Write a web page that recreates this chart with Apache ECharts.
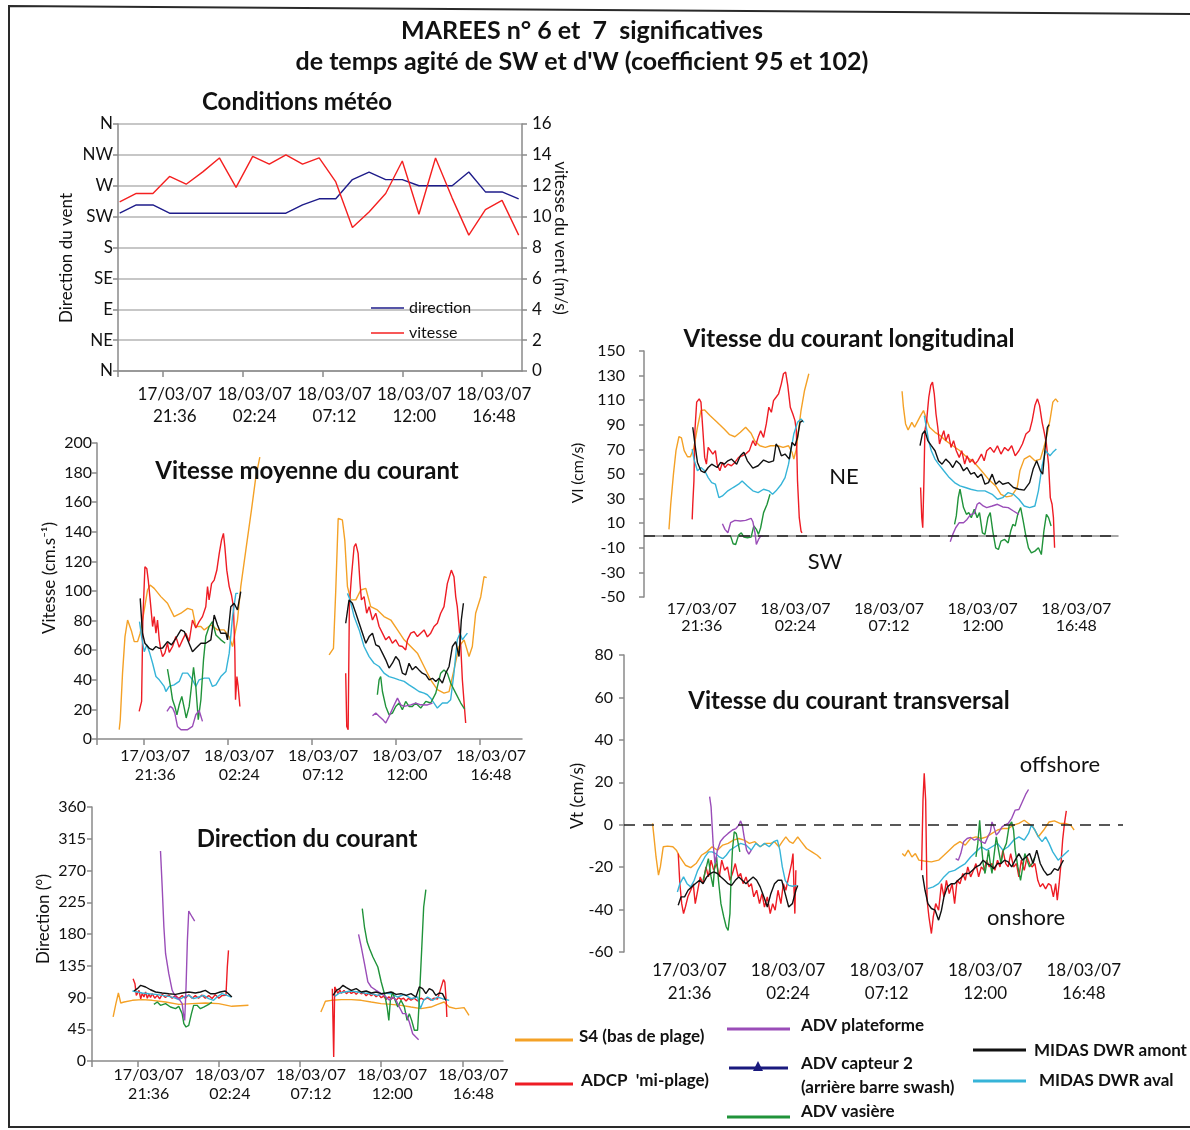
<!DOCTYPE html>
<html><head><meta charset="utf-8">
<script src="https://cdn.jsdelivr.net/npm/echarts@6/dist/echarts.min.js"></script>
<style>html,body{margin:0;padding:0;background:#fff}#c{width:1190px;height:1130px}</style>
</head><body><div id="c"></div>
<script>
// ---------- axis tick labels ----------
const tickHours = [21.6, 26.4, 31.2, 36.0, 40.8];
const tickLabels = ['17/03/07\n21:36','18/03/07\n02:24','18/03/07\n07:12','18/03/07\n12:00','18/03/07\n16:48'];
const compassLabels = ['N','NE','E','SE','S','SW','W','NW','N'];
const timeMin = 18.9, timeMax = 43.2;

// ---------- Conditions météo (hours since 17/03/07 00:00) ----------
const meteoHours = [19,20,21,22,23,24,25,26,27,28,29,30,31,32,33,34,35,36,37,38,39,40,41,42,43];
const meteoDirection = [230,242,242,230,230,230,230,230,230,230,230,242,251,251,279,290,279,279,270,270,270,290,261,261,251];
const meteoSpeed = [10.95,11.5,11.5,12.6,12.1,12.9,13.8,11.9,13.9,13.4,14.0,13.4,13.8,12.25,9.3,10.3,11.5,13.6,10.15,13.8,11.2,8.8,10.45,11.05,8.8];

// ---------- Vitesse moyenne du courant (cm/s) ----------
const vmoyS4a = [[20.17,6.3],[20.23,13],[20.36,44.5],[20.50,69.2],[20.65,80.4],[20.74,81.6],[20.88,72.6],[21.03,65.8],[21.22,65.8],[21.37,71.5],[21.60,87],[21.79,100.7],[21.94,104],[22.17,101.8],[22.55,96.2],[22.93,91.7],[23.31,82.7],[23.70,85],[24.08,88.3],[24.36,87.2],[24.55,76],[24.84,76],[25.03,73.7],[25.41,77],[25.79,73.7],[26.17,73.7],[26.46,69],[26.65,62.5],[26.93,80],[27.12,103],[27.41,127.6],[27.73,154.6],[27.98,177],[28.21,190.5]];
const vmoyS4b = [[32.17,56.9],[32.42,61.3],[32.55,100],[32.69,149],[32.93,148],[33.07,134],[33.22,103],[33.41,94],[33.70,94],[33.98,100.7],[34.27,101.8],[34.55,89.4],[34.93,87.2],[35.31,82.7],[35.70,80.4],[36.08,73.7],[36.46,67],[36.84,62.5],[37.22,58],[37.60,49],[37.98,40],[38.36,33.3],[38.74,31],[39.03,32],[39.31,46.7],[39.60,62.5],[39.89,67],[40.17,55.7],[40.36,62.5],[40.55,85],[40.84,96],[41.03,109.7],[41.18,109]];
const vmoyADCPa = [[21.31,18.7],[21.45,25.4],[21.52,80],[21.64,116.4],[21.75,115],[21.83,107.4],[21.94,94],[22.08,76],[22.17,82.7],[22.27,71.5],[22.36,80.4],[22.46,67],[22.55,60.2],[22.65,55.7],[22.78,58],[22.93,64.7],[23.03,58.5],[23.22,62.5],[23.41,69.2],[23.60,62],[23.79,67],[23.98,71.5],[24.17,66],[24.36,80.4],[24.55,75],[24.74,79.3],[24.93,82.7],[25.12,89.4],[25.22,103],[25.31,94],[25.45,105],[25.60,107.4],[25.75,114],[25.89,125.4],[26.02,134.4],[26.13,138.9],[26.21,129.9],[26.32,114.1],[26.46,103],[26.59,97.3],[26.70,89.4],[26.78,60],[26.82,26.5],[26.90,42.2],[26.97,35.5],[27.07,22]];
const vmoyADCPb = [[33.12,44.5],[33.18,8.5],[33.26,6.3],[33.33,90],[33.45,110],[33.60,129.9],[33.70,132],[33.83,125.4],[33.94,105],[34.02,94],[34.17,96.2],[34.32,85],[34.46,89.4],[34.65,80.4],[34.84,85],[35.03,76],[35.22,71.5],[35.41,67],[35.60,69.2],[35.79,64.7],[35.98,67],[36.17,63],[36.36,62.5],[36.55,60.2],[36.65,67],[36.84,71.5],[37.03,72.6],[37.22,69.2],[37.41,71.5],[37.60,73.7],[37.79,69],[37.98,71.5],[38.17,76],[38.36,78.2],[38.55,85],[38.74,89.4],[38.93,105],[39.16,114.1],[39.31,109.7],[39.41,96.2],[39.50,89.4],[39.60,76],[39.70,62.5],[39.79,40],[39.89,24.3],[39.98,10.8]];
const vmoyAmontA = [[21.37,95],[21.50,71.5],[21.64,64.7],[21.89,61.3],[22.08,60.2],[22.27,62.5],[22.46,61.3],[22.65,61.5],[22.93,65.8],[23.16,63.6],[23.41,68],[23.70,73.7],[23.89,72.6],[24.08,67],[24.36,59],[24.55,61.3],[24.84,64.7],[25.12,64.7],[25.41,67],[25.60,83.8],[25.79,77],[25.98,71.5],[26.27,71.5],[26.36,67],[26.55,89.4],[26.74,91.7],[26.93,87.2],[27.12,99.5]];
const vmoyAmontB = [[33.12,78.2],[33.31,94],[33.50,91.7],[33.70,85],[33.89,78.2],[34.08,71.5],[34.27,64.7],[34.46,69.2],[34.65,71.5],[34.84,63.6],[35.03,62.5],[35.22,58],[35.41,53.5],[35.60,47.9],[35.79,51.2],[35.98,55.7],[36.17,53],[36.36,44.5],[36.55,43.4],[36.74,51.2],[36.93,46.7],[37.12,49],[37.31,46.7],[37.50,44.5],[37.70,43.4],[37.89,40],[38.08,41],[38.27,38.9],[38.46,41],[38.65,37.8],[38.84,44.5],[39.03,49],[39.22,62.5],[39.41,65.8],[39.60,55.7],[39.73,80.4],[39.85,91.7]];
const vmoyAvalA = [[21.33,79.3],[21.45,69.2],[21.60,59],[21.75,63.6],[21.89,59],[22.08,51.2],[22.27,42.2],[22.46,40],[22.74,35.5],[22.84,32.1],[23.03,35.5],[23.31,36.6],[23.60,38.9],[23.79,44.5],[24.08,44.5],[24.36,40],[24.55,35.5],[24.74,40],[25.03,41.1],[25.31,41.1],[25.50,35.5],[25.70,36.6],[25.98,42.2],[26.27,45.6],[26.46,58],[26.65,82.7],[26.84,98.4],[26.97,98.4]];
const vmoyAvalB = [[33.22,98.4],[33.37,94],[33.60,82.7],[33.89,73.7],[34.17,62.5],[34.46,55.7],[34.74,51.2],[35.03,49],[35.31,44.5],[35.60,42.2],[35.89,41.1],[36.17,40],[36.46,38.9],[36.74,36.6],[37.03,34.4],[37.31,32.1],[37.60,31],[37.79,29.9],[37.98,27.6],[38.17,24.3],[38.36,20.9],[38.65,24.3],[38.93,24.3],[39.12,26.5],[39.31,44.5],[39.50,67],[39.66,71.5],[39.79,67],[39.92,69.2],[40.08,71.5]];
const vmoyVasA = [[22.93,47.2],[23.12,34.4],[23.22,26.5],[23.35,22],[23.47,16.4],[23.60,23.1],[23.75,28.8],[23.89,20.9],[24.00,14.2],[24.17,22],[24.30,35.5],[24.42,48.5],[24.55,35.5],[24.69,13],[24.84,26.5],[24.99,53.5],[25.12,69.2],[25.31,76],[25.50,79.3],[25.70,70.3],[25.98,67],[26.23,64.7]];
const vmoyVasB = [[34.93,29.9],[35.03,40],[35.12,42.2],[35.22,32.1],[35.41,22],[35.60,16.4],[35.79,17.5],[35.98,22],[36.17,24.3],[36.36,19.8],[36.55,25.4],[36.74,22],[36.93,22],[37.12,24.3],[37.41,20.9],[37.70,25.4],[37.98,24.3],[38.27,31],[38.55,44.5],[38.74,46.7],[38.93,44.5],[39.12,37.8],[39.41,31],[39.70,24.3],[39.92,20.2]];
const vmoyPlatA = [[22.90,18.7],[23.09,22],[23.22,20.9],[23.35,17.5],[23.50,8.5],[23.70,6.3],[24.08,6.3],[24.36,8.5],[24.55,16.4],[24.74,19.3],[24.93,11.9]];
const vmoyPlatB = [[34.65,15.7],[34.84,17.5],[35.03,15.3],[35.28,12.6],[35.41,10.8],[35.60,15.3],[35.85,22],[36.08,27.6],[36.27,23.1],[36.46,22],[36.84,23.1],[37.12,24.3],[37.41,23.1],[37.79,23],[38.08,24.3]];

// ---------- Direction du courant (°) ----------
const dirS4a = [[20.15,62.4],[20.31,81],[20.46,96.4],[20.60,82.2],[20.80,83.6],[21.29,86],[21.87,87],[22.46,86],[23.25,83.6],[24.03,80.3],[24.82,81.3],[25.60,82.2],[26.39,81.3],[27.17,77.5],[28.15,79]];
const dirS4b = [[32.43,69.4],[32.56,76.5],[32.70,84.6],[33.05,86],[33.64,87],[34.23,87],[34.82,86],[35.41,83.6],[35.99,81.3],[36.58,80.3],[37.17,78.9],[37.76,76.5],[38.35,74.2],[38.94,76.5],[39.33,80.3],[39.72,83.6],[40.02,76.5],[40.41,74.2],[40.90,75.6],[41.19,64.7]];
const dirADCPa = [[21.33,116.7],[21.44,109.6],[21.52,93],[21.68,100],[21.78,88],[21.87,96],[21.97,90.7],[22.07,97.8],[22.17,89],[22.27,95],[22.36,90],[22.46,95.4],[22.61,89],[22.76,93],[22.9,88],[23.05,94.5],[23.24,90],[23.44,93.6],[23.64,89],[23.84,93],[24.03,88.5],[24.23,92.7],[24.42,89],[24.62,94],[24.82,89],[25.01,92.7],[25.2,89],[25.40,93.6],[25.6,89],[25.80,92.7],[26.0,88.5],[26.19,94],[26.4,89],[26.58,92.7],[26.82,93],[26.90,133],[26.97,156.8]];
const dirADCPb = [[33.11,102.5],[33.19,5.7],[33.25,105],[33.35,107.2],[33.45,95.4],[33.55,101],[33.64,96],[33.8,100],[33.94,95.4],[34.1,99],[34.23,95.8],[34.4,98],[34.52,94.4],[34.67,98.5],[34.82,95.2],[34.97,97],[35.11,92.5],[35.26,96],[35.41,92.4],[35.55,95],[35.70,91],[35.85,94],[36.00,89.7],[36.15,92],[36.29,87.3],[36.45,91],[36.58,87.8],[36.73,90],[36.88,85.9],[37.03,90],[37.17,87.3],[37.32,89],[37.47,85],[37.62,89],[37.76,86.3],[37.95,89],[38.15,85],[38.35,89],[38.54,86.8],[38.74,89.5],[38.94,86.3],[39.13,89],[39.33,87.7],[39.68,115.3],[39.76,112],[39.84,86],[39.88,62.4]];
const dirAmontA = [[21.38,99.2],[21.58,102.5],[21.78,107.2],[22.07,104.9],[22.36,101],[22.66,97.8],[23.05,96.4],[23.44,95.4],[23.84,94.5],[24.23,96.4],[24.62,97.8],[25.01,96.4],[25.31,97.8],[25.60,100],[25.90,95.4],[26.19,95.4],[26.48,97.8],[26.78,99.2],[26.97,95.4],[27.17,90.7]];
const dirAmontB = [[33.15,93],[33.35,100],[33.54,102.5],[33.74,107.2],[33.94,104],[34.23,100],[34.52,102.5],[34.82,97.8],[35.11,99.2],[35.41,96.4],[35.70,97.8],[36.00,95.4],[36.29,96.4],[36.58,97.8],[36.88,94.5],[37.17,95.4],[37.47,93],[37.76,95.4],[38.05,90.7],[38.25,104.9],[38.45,102.5],[38.64,95.4],[38.84,102.5],[39.04,100],[39.23,93],[39.43,96.4],[39.62,95.4],[39.82,86]];
const dirAvalA = [[21.29,99.2],[21.58,97.8],[21.87,96.4],[22.27,95.4],[22.66,94.5],[23.05,93],[23.44,91.6],[23.74,89.8],[24.03,86.9],[24.33,90.7],[24.62,93],[24.91,88.3],[25.21,90.7],[25.50,93],[25.80,88.3],[26.09,86],[26.29,90.7],[26.58,95.4],[26.88,93],[27.13,90.7]];
const dirAvalB = [[33.25,91.6],[33.54,96.4],[33.84,97.8],[34.23,99.2],[34.62,97.8],[35.01,96.4],[35.41,95.4],[35.80,93],[36.19,96.4],[36.58,95.4],[36.98,90.7],[37.37,94.5],[37.76,88.3],[38.15,90.7],[38.31,74.2],[38.51,86],[38.74,90.7],[39.04,86],[39.33,90.7],[39.62,88.3],[40.02,86]];
const dirVasA = [[22.56,80.3],[22.76,83.6],[22.95,78.9],[23.25,81.3],[23.54,76.5],[23.84,74.2],[24.03,77.5],[24.23,67.1],[24.33,52.9],[24.46,48.2],[24.62,50.5],[24.78,67.1],[24.91,78.9],[25.11,78.9],[25.31,74.2],[25.50,76.5],[25.80,80.3],[25.99,83.6]];
const dirVasB = [[34.88,215.9],[35.01,189.9],[35.17,168.6],[35.31,159.2],[35.51,147.4],[35.80,133.2],[36.00,112],[36.19,95.4],[36.35,76.5],[36.45,57.6],[36.54,86],[36.68,97.8],[36.82,86],[36.98,76.5],[37.17,86],[37.37,76.5],[37.53,57.6],[37.66,67.1],[37.80,57.6],[37.96,43.5],[38.15,43.5],[38.25,86],[38.39,156.8],[38.51,218.3],[38.64,242.8]];
const dirPlatA = [[22.95,297.6],[23.05,246.6],[23.15,189.9],[23.25,152.1],[23.44,123.8],[23.64,100.2],[23.84,90.7],[24.03,88.3],[24.23,81.3],[24.33,62.4],[24.38,57.6],[24.46,104.9],[24.54,171],[24.62,212.6],[24.72,212.6],[24.82,204.1],[24.97,198.4]];
const dirPlatB = [[34.66,179.5],[34.82,161.6],[35.01,137.9],[35.21,112],[35.41,104.9],[35.70,100.2],[36.00,95.4],[36.29,90.7],[36.49,86],[36.68,90.7],[36.88,86],[37.07,76.5],[37.27,67.1],[37.47,67.1],[37.66,55.3],[37.86,38.7],[38.05,34],[38.21,30.2]];

// ---------- Vitesse du courant longitudinal (cm/s) ----------
const lonS4a = [[20.18,5],[20.27,25.4],[20.41,49.9],[20.54,69],[20.69,80.3],[20.82,79.3],[20.96,69],[21.13,64],[21.28,64],[21.46,71.6],[21.64,88],[21.82,101.6],[22.01,102.1],[22.28,97.5],[22.65,92],[23.01,86.6],[23.29,82],[23.56,80.3],[23.84,83.9],[24.11,88],[24.39,83.1],[24.57,77.1],[24.84,73],[25.12,71.6],[25.39,73],[25.76,73],[26.03,71.6],[26.31,73],[26.49,67.6],[26.58,62.1],[26.71,70.3],[26.82,85.2],[26.95,101.6],[27.13,117.9],[27.35,131.5]];
const lonS4b = [[32.13,117.3],[32.20,104.3],[32.31,90.7],[32.44,85.8],[32.63,92],[32.77,88],[32.90,92],[33.08,97.5],[33.23,101.6],[33.36,95.6],[33.54,88],[33.82,83.9],[34.09,81.2],[34.37,77.1],[34.73,73],[35.10,68.9],[35.46,63.5],[35.83,59.4],[36.20,52.6],[36.56,45.8],[36.93,40.3],[37.20,33.5],[37.48,31.4],[37.75,32.2],[38.03,39],[38.17,52.6],[38.39,62.1],[38.67,64.8],[38.94,60.7],[39.22,62.1],[39.40,71.6],[39.53,79.8],[39.71,93.4],[39.86,108.4],[40.00,111.1],[40.13,108.4]];
const lonADCPa = [[21.37,13.1],[21.40,25.4],[21.46,44.4],[21.51,85.2],[21.60,108.4],[21.73,111.1],[21.82,108.4],[21.92,85.2],[22.01,63.5],[22.10,58],[22.19,71.6],[22.28,73],[22.43,66.2],[22.56,69],[22.65,58],[22.79,52.6],[22.92,59.4],[23.05,55.3],[23.20,58],[23.38,56.7],[23.56,59.4],[23.75,63.5],[23.93,64.8],[24.11,66.2],[24.30,69],[24.48,77.1],[24.62,73],[24.75,79.8],[24.88,85.2],[25.03,79.8],[25.17,90.7],[25.30,104.3],[25.43,100.2],[25.54,109.7],[25.67,112.4],[25.80,115.2],[25.94,123.3],[26.05,131.5],[26.16,132.9],[26.27,122],[26.40,104.3],[26.53,98.8],[26.64,93.4],[26.71,85.2],[26.77,44.4],[26.86,14.5],[26.95,3.6],[27.00,2.2]];
const lonADCPb = [[33.08,39],[33.14,14.5],[33.19,6.3],[33.25,44.4],[33.30,85.2],[33.39,93.4],[33.50,112.4],[33.60,122],[33.69,124.7],[33.78,115.2],[33.87,98.8],[33.96,88],[34.05,74.4],[34.15,79.8],[34.27,85.2],[34.37,77.1],[34.51,82.5],[34.64,71.6],[34.77,77.1],[34.91,68.9],[35.06,63.5],[35.19,68.9],[35.34,58],[35.46,64.8],[35.61,59.4],[35.74,62.1],[35.87,58],[36.01,60.7],[36.20,66.2],[36.34,60.7],[36.47,68.9],[36.65,71.6],[36.84,67.6],[37.02,73],[37.20,66.2],[37.39,71.6],[37.57,68.9],[37.75,73],[37.93,64.8],[38.12,68.9],[38.30,74.4],[38.48,82.5],[38.67,85.2],[38.80,93.4],[38.94,105.6],[39.07,111.1],[39.18,105.6],[39.31,92],[39.40,85.2],[39.53,74.4],[39.64,58],[39.73,30.8],[39.82,25.4],[39.89,14.5],[39.95,-10]];
const lonAmontA = [[21.40,88],[21.51,74.4],[21.64,59.4],[21.82,52.6],[22.01,51.2],[22.19,55.3],[22.37,58],[22.65,55.3],[22.83,59.4],[23.01,58],[23.20,60.7],[23.38,62.1],[23.65,58],[23.84,64.8],[24.02,67.6],[24.20,60.7],[24.48,54.8],[24.75,56.7],[25.03,61.3],[25.30,59.4],[25.54,60.7],[25.67,74.4],[25.80,71.6],[25.94,64.8],[26.13,66.2],[26.35,62.1],[26.49,75.7],[26.64,73],[26.77,79.8],[26.90,92],[27.04,93.4]];
const lonAmontB = [[33.05,73],[33.17,82.5],[33.30,85.2],[33.45,77.1],[33.63,73],[33.82,68.9],[34.00,60.7],[34.18,58],[34.37,62.1],[34.55,59.4],[34.73,55.3],[34.91,60.7],[35.10,58],[35.28,52.6],[35.46,55.3],[35.65,49.9],[35.83,51.2],[36.01,47.1],[36.20,49.9],[36.38,41.7],[36.56,43],[36.75,49.9],[36.93,41.7],[37.11,44.4],[37.29,41.7],[37.57,43],[37.84,39],[38.12,37.6],[38.39,36.9],[38.67,43],[38.85,54],[39.03,60.7],[39.22,52.6],[39.34,49.9],[39.45,68.9],[39.58,88],[39.67,90.2]];
const lonAvalA = [[21.37,70.3],[21.46,62.1],[21.64,52.6],[21.82,55.3],[22.01,52.6],[22.19,47.1],[22.37,43],[22.56,41.7],[22.74,30.8],[22.92,32.2],[23.20,36.3],[23.47,39],[23.75,41.7],[23.93,44.4],[24.20,40.3],[24.48,36.3],[24.75,34.9],[25.03,37.6],[25.30,36.3],[25.49,33.5],[25.67,36.3],[25.94,41.7],[26.13,47.1],[26.31,58],[26.46,71.6],[26.58,82.5],[26.77,92],[26.95,94.8],[27.10,92]];
const lonAvalB = [[33.27,97.5],[33.36,89.3],[33.49,77.1],[33.63,68.9],[33.82,62.1],[34.00,58],[34.27,52.6],[34.55,47.1],[34.82,43],[35.10,40.3],[35.37,39],[35.65,37.6],[36.01,36.3],[36.38,36.3],[36.75,33.5],[37.02,29.5],[37.29,30.8],[37.57,34.9],[37.84,33.5],[38.12,29.5],[38.39,24],[38.67,22.7],[38.94,24],[39.12,36.3],[39.31,56.7],[39.49,68.9],[39.71,64.8],[39.86,67.6],[40.04,70.3]];
const lonVasA = [[23.34,-0.5],[23.47,-6.7],[23.60,-7.3],[23.75,0.3],[23.89,2.2],[24.02,-1.3],[24.20,-1.8],[24.39,-1.3],[24.53,7.7],[24.66,5],[24.77,0.9],[24.88,6.3],[25.03,18.6],[25.21,25.4],[25.36,33.5]];
const lonVasB = [[34.82,9],[34.91,15.9],[35.01,30.8],[35.10,37.6],[35.19,36.3],[35.28,22.7],[35.43,17.2],[35.55,18.6],[35.68,14.5],[35.83,21.3],[35.98,14.5],[36.10,18.6],[36.25,2.2],[36.38,0.9],[36.53,14.5],[36.65,18.6],[36.78,3.6],[36.93,-10],[37.07,-11.4],[37.20,-4.6],[37.39,-3.2],[37.57,-6],[37.70,3.6],[37.81,9],[37.93,7.7],[38.06,17.2],[38.21,22.7],[38.34,11.8],[38.48,-0.5],[38.61,-10],[38.76,-14.1],[38.94,-12.7],[39.12,-10],[39.27,-15.5],[39.40,3.6],[39.53,17.2],[39.64,14.5],[39.77,7.7]];
const lonPlatA = [[22.92,9.6],[23.05,5],[23.20,2.2],[23.34,10.4],[23.56,12.3],[23.84,11.8],[24.11,12.3],[24.39,14],[24.48,11.2],[24.59,2.2],[24.66,-7.3],[24.77,-3.2],[24.88,-0.5],[24.99,-0.5]];
const lonPlatB = [[34.60,-5.1],[34.73,0.9],[34.88,6.3],[35.06,10.4],[35.28,10.4],[35.46,13.1],[35.65,17.2],[35.83,17.8],[35.98,25.4],[36.10,26.7],[36.29,24],[36.47,22.7],[36.75,24],[37.02,25.4],[37.29,23.2],[37.57,22.7],[37.84,19.9],[38.12,17.2]];

// ---------- Vitesse du courant transversal (cm/s) ----------
const traS4a = [[20.29,0.6],[20.36,-5.7],[20.46,-15.2],[20.58,-23.8],[20.67,-19.9],[20.81,-10.4],[21.02,-10.1],[21.28,-10.4],[21.45,-12],[21.62,-15.2],[21.89,-19.1],[22.15,-20.2],[22.41,-18.3],[22.67,-14.4],[22.93,-12.8],[23.19,-10.4],[23.45,-12],[23.71,-9.6],[23.97,-8.8],[24.23,-7.3],[24.49,-6.5],[24.75,-7.3],[25.01,-8.8],[25.27,-8],[25.53,-10.4],[25.79,-8.8],[26.05,-8.8],[26.23,-8],[26.44,-10.4],[26.61,-8],[26.78,-5.7],[26.96,-8],[27.13,-8.8],[27.36,-5.7],[27.53,-8],[27.79,-11.2],[28.05,-12.8],[28.31,-14.4],[28.49,-16]];
const traS4b = [[32.45,-13.6],[32.57,-14.8],[32.74,-12],[32.92,-15.2],[33.09,-13.6],[33.26,-16.7],[33.52,-17.1],[33.87,-17.5],[34.22,-16.7],[34.48,-14.4],[34.74,-12],[35.00,-9.6],[35.26,-8],[35.52,-9.6],[35.78,-6.5],[36.04,-5.7],[36.30,-6.5],[36.56,-5.7],[36.82,-4.1],[37.09,-2.5],[37.35,-1.8],[37.61,-1.8],[37.87,-0.2],[38.13,0.6],[38.39,2.1],[38.60,0.6],[38.82,-1],[39.08,-5.7],[39.34,-2.5],[39.60,1.3],[39.86,1.8],[40.13,0.6],[40.39,0.6],[40.65,-0.2],[40.82,-2.5]];
const traADCPa = [[21.54,-13.6],[21.62,-27.8],[21.71,-37.2],[21.80,-41.9],[21.89,-38.8],[22.01,-34],[22.15,-30.9],[22.27,-27.8],[22.37,-37.2],[22.49,-30.9],[22.61,-24.6],[22.75,-27.8],[22.89,-19.9],[23.01,-24.6],[23.14,-16.7],[23.27,-21.5],[23.41,-18.3],[23.54,-24.6],[23.66,-16.7],[23.80,-21.5],[23.94,-19.9],[24.06,-26.2],[24.18,-23],[24.32,-18.3],[24.46,-24.6],[24.58,-23],[24.70,-27.8],[24.84,-24.6],[24.98,-29.3],[25.10,-27.8],[25.22,-34],[25.36,-30.9],[25.50,-37.2],[25.62,-32.5],[25.74,-38.8],[25.88,-34],[26.02,-41.9],[26.14,-37.2],[26.26,-40.3],[26.40,-30.9],[26.54,-37.2],[26.66,-27.8],[26.78,-30.9],[26.92,-24.6],[27.06,-18.3],[27.13,-13.6],[27.18,-30.9],[27.22,-41.9],[27.27,-21.5]];
const traADCPb = [[33.39,-21.5],[33.46,11.6],[33.52,24.2],[33.59,11.6],[33.66,-35.6],[33.75,-43.5],[33.87,-51.3],[33.96,-43.5],[34.08,-37.2],[34.22,-40.3],[34.36,-27.8],[34.48,-34],[34.60,-26.2],[34.74,-32.5],[34.88,-27.8],[35.00,-37.2],[35.12,-26.2],[35.26,-27.8],[35.40,-23],[35.52,-26.2],[35.64,-19.9],[35.78,-24.6],[35.92,-21.5],[36.04,-18.3],[36.17,-24.6],[36.30,-19.9],[36.44,-21.5],[36.56,-16.7],[36.69,-19.9],[36.82,-18.3],[36.96,-21.5],[37.09,-16.7],[37.21,-19.9],[37.35,-12],[37.49,-18.3],[37.61,-19.9],[37.73,-13.6],[37.87,-19.9],[38.01,-18.3],[38.13,-24.6],[38.25,-16.7],[38.39,-21.5],[38.53,-15.2],[38.65,-18.3],[38.77,-19.9],[38.91,-18.3],[39.05,-26.2],[39.17,-29.3],[39.29,-27.8],[39.43,-30.2],[39.57,-27.8],[39.69,-28.6],[39.81,-34],[39.92,-27.8],[40.00,-35.6],[40.09,-27.8],[40.18,-18.3],[40.26,-7.3],[40.35,0.6],[40.44,6.5]];
const traAmontA = [[21.54,-38],[21.68,-34],[21.85,-34],[22.02,-30.9],[22.20,-29.3],[22.37,-27.8],[22.58,-26.2],[22.75,-27.8],[22.93,-24.6],[23.10,-23],[23.27,-22.2],[23.45,-23],[23.62,-24.6],[23.80,-26.2],[23.97,-27.8],[24.14,-28.6],[24.32,-26.2],[24.49,-24.6],[24.66,-26.2],[24.84,-27.8],[25.01,-26.2],[25.19,-24.6],[25.36,-26.2],[25.53,-29.3],[25.71,-34],[25.88,-38.8],[26.05,-32.5],[26.23,-27.8],[26.40,-26.2],[26.58,-26.2],[26.75,-32.5],[26.92,-38.8],[27.10,-37.2],[27.27,-30.9],[27.36,-28.6]];
const traAmontB = [[33.44,-23.8],[33.56,-30.9],[33.70,-37.2],[33.87,-39.5],[34.05,-40.3],[34.22,-45],[34.36,-40.3],[34.48,-34],[34.65,-29.3],[34.83,-27.8],[35.00,-27.8],[35.17,-26.2],[35.35,-24.6],[35.52,-23],[35.70,-23],[35.87,-21.5],[36.04,-19.9],[36.22,-19.1],[36.39,-16.7],[36.56,-18.3],[36.74,-19.1],[36.91,-20.7],[37.09,-18.3],[37.26,-18.3],[37.43,-16.7],[37.61,-17.5],[37.78,-19.9],[37.95,-16.7],[38.13,-13.6],[38.30,-16.7],[38.48,-15.2],[38.65,-13.6],[38.82,-18.3],[39.00,-12],[39.17,-18.3],[39.34,-21.5],[39.52,-23.8],[39.69,-23],[39.86,-20.7],[40.04,-21.5],[40.21,-18.3],[40.30,-16.7]];
const traAvalA = [[21.50,-31.7],[21.62,-27.8],[21.80,-24.6],[21.97,-27.8],[22.15,-29.3],[22.32,-26.2],[22.49,-21.5],[22.67,-18.3],[22.84,-15.2],[23.02,-12.8],[23.19,-12.8],[23.36,-13.6],[23.54,-15.2],[23.71,-16],[23.88,-14.4],[24.06,-12],[24.32,-10.4],[24.58,-8.8],[24.84,-9.6],[25.10,-12],[25.32,-8.8],[25.53,-10.4],[25.74,-8.8],[25.97,-10.4],[26.19,-8],[26.37,-7.3],[26.49,-12],[26.61,-19.9],[26.75,-26.2],[26.92,-28.6],[27.10,-29],[27.31,-28.6]];
const traAvalB = [[33.70,-30.1],[33.96,-29.3],[34.22,-27.8],[34.48,-24.6],[34.74,-22.2],[35.00,-21.5],[35.26,-19.9],[35.52,-18.3],[35.78,-15.2],[36.04,-12.8],[36.30,-10.4],[36.56,-12],[36.82,-10.4],[37.09,-8.8],[37.35,-12],[37.61,-10.4],[37.87,-7.3],[38.13,-5.7],[38.39,-7.3],[38.60,-4.1],[38.74,-0.2],[38.91,-2.5],[39.08,-5.7],[39.26,-8],[39.43,-5.7],[39.60,-8.8],[39.78,-12.8],[40.04,-16.7],[40.30,-14.4],[40.56,-12]];
const traVasA = [[22.75,-26.2],[22.89,-20.7],[23.01,-16],[23.14,-24.6],[23.24,-29.3],[23.31,-19.9],[23.41,-15.2],[23.50,-26.2],[23.62,-37.2],[23.76,-43.5],[23.88,-48.2],[23.97,-49.8],[24.06,-41.9],[24.11,-26.2],[24.18,-12],[24.27,-3.3],[24.37,-4.2],[24.46,-8.8],[24.54,-12.8]];
const traVasB = [[36.04,-15.2],[36.13,-8.8],[36.22,2.1],[36.30,-8.8],[36.39,-18.3],[36.48,-23],[36.56,-18.3],[36.65,-12],[36.74,-18.3],[36.82,-23],[36.91,-15.2],[37.03,-5.7],[37.14,-12],[37.26,-18.3],[37.38,-12],[37.52,-8.8],[37.66,-0.2],[37.78,1.3],[37.87,-2.5],[37.95,-12],[38.08,-19.9],[38.21,-26.2],[38.32,-19.9],[38.42,-13.6],[38.53,-16.7],[38.65,-19.9],[38.77,-18.3],[38.91,-15.2]];
const traPlatA = [[23.07,13.2],[23.14,8.4],[23.24,-8.8],[23.33,-18.3],[23.45,-12],[23.59,-8],[23.76,-5.9],[23.97,-4.1],[24.18,-2.5],[24.35,-1.8],[24.49,-0.2],[24.58,1.8],[24.66,-0.2],[24.75,-5.7],[24.87,-12],[24.98,-13.9],[25.10,-12]];
const traPlatB = [[35.05,-16],[35.18,-16.7],[35.30,-13.6],[35.44,-8],[35.61,-6.5],[35.78,-6],[35.96,-7.3],[36.13,-6.5],[36.30,-8],[36.48,-8.8],[36.62,-5.7],[36.74,-3.3],[36.82,1.3],[36.91,-1],[37.03,-4.9],[37.17,-3.3],[37.31,-1],[37.43,-0.2],[37.61,0.6],[37.78,3],[37.95,6.9],[38.13,7.2],[38.30,10.8],[38.48,14.7],[38.60,16.6]];

// ---------- styling ----------
const FONT = 'Lato, "Open Sans", "DejaVu Sans", sans-serif';
const COL = {S4:'#F4A126', ADCP:'#EE1C24', PLAT:'#9A4DB8', VAS:'#20933A', AMONT:'#111111', AVAL:'#36B4D8', DIR:'#1E1C8A', VIT:'#F42020'};
const NAMES = {S4:'S4 (bas de plage)', ADCP:"ADCP  'mi-plage)", PLAT:'ADV plateforme', VAS:'ADV vasière', AMONT:'MIDAS DWR amont', AVAL:'MIDAS DWR aval'};
const AX = '#8a8a8a';

// labels are drawn slightly right of their tick (as in the original): off = hours of shift
function xAx(gi, o){
  const off = o.off;
  const labelVals = tickHours.map(h=>h+off);
  const fmt = (v)=>{ for(let i=0;i<tickHours.length;i++){ if(Math.abs(tickHours[i]+off-v)<0.01) return tickLabels[i]; } return ''; };
  return {type:'value', gridIndex:gi, min:timeMin, max:timeMax,
    axisLine:{show:o.line, lineStyle:{color:AX, width:1.5}},
    axisTick:{show:o.ticks, customValues:[timeMin].concat(tickHours), length:6, lineStyle:{color:AX, width:1.5}},
    axisLabel:{customValues:labelVals, formatter:fmt, margin:o.margin, lineHeight:o.lh, fontSize:o.fs, color:'#111', fontFamily:FONT, showMinLabel:true, showMaxLabel:true},
    splitLine:{show:false}};
}
function yAx(gi, o){
  const a = {type:'value', gridIndex:gi, min:o.min, max:o.max,
    axisLine:{show:true, lineStyle:{color:AX, width:1.5}},
    axisTick:{show:true, length:5, lineStyle:{color:AX, width:1.5}},
    axisLabel:{fontSize:o.fs||16, color:'#111', margin:o.margin||6, fontFamily:FONT},
    splitLine:{show:false}};
  if(o.interval) a.interval = o.interval;
  if(o.custom){ a.axisLabel.customValues = o.custom; a.axisTick.customValues = o.custom; }
  return a;
}
function ln(name, data, color, xi, yi, w){
  return {type:'line', name, data, xAxisIndex:xi, yAxisIndex:yi, symbol:'none', showSymbol:false,
    lineStyle:{color, width:w||1.4}, itemStyle:{color}, silent:true, animation:false};
}

const series = [];
series.push(ln('direction', meteoHours.map((h,i)=>[h, meteoDirection[i]]), COL.DIR, 0, 0, 1.4));
series.push(ln('vitesse', meteoHours.map((h,i)=>[h, meteoSpeed[i]]), COL.VIT, 0, 1, 1.4));

const panels = [
  {xi:1, yi:2, sets:[['S4',vmoyS4a,vmoyS4b],['ADCP',vmoyADCPa,vmoyADCPb],['AVAL',vmoyAvalA,vmoyAvalB],['VAS',vmoyVasA,vmoyVasB],['PLAT',vmoyPlatA,vmoyPlatB],['AMONT',vmoyAmontA,vmoyAmontB]]},
  {xi:2, yi:3, sets:[['S4',dirS4a,dirS4b],['ADCP',dirADCPa,dirADCPb],['AVAL',dirAvalA,dirAvalB],['VAS',dirVasA,dirVasB],['PLAT',dirPlatA,dirPlatB],['AMONT',dirAmontA,dirAmontB]]},
  {xi:3, yi:4, sets:[['S4',lonS4a,lonS4b],['ADCP',lonADCPa,lonADCPb],['AVAL',lonAvalA,lonAvalB],['VAS',lonVasA,lonVasB],['PLAT',lonPlatA,lonPlatB],['AMONT',lonAmontA,lonAmontB]]},
  {xi:4, yi:5, sets:[['S4',traS4a,traS4b],['ADCP',traADCPa,traADCPb],['AVAL',traAvalA,traAvalB],['VAS',traVasA,traVasB],['PLAT',traPlatA,traPlatB],['AMONT',traAmontA,traAmontB]]}
];
panels.forEach(p=>{
  p.sets.forEach(s=>{
    series.push(ln(NAMES[s[0]], s[1], COL[s[0]], p.xi, p.yi));
    series.push(ln(NAMES[s[0]], s[2], COL[s[0]], p.xi, p.yi));
  });
});
// zero reference lines
[[3,4],[4,5]].forEach(([xi,yi])=>{
  series.push({type:'line', data:[], xAxisIndex:xi, yAxisIndex:yi, silent:true,
    markLine:{silent:true, symbol:'none', label:{show:false}, animation:false,
      lineStyle:{type:[11,8], color:'#222', width:1.5}, data:[{yAxis:0}]}});
});

function txt(x, y, s, o){
  o = o || {};
  return {type:'text', x, y, rotation:o.rot||0, silent:true, z:10,
    style:{text:s, x:0, y:0, fill:'#111', font:(o.bold?'bold ':'')+(o.fs||17)+'px '+FONT,
      align:o.align||'center', verticalAlign:'middle'}};
}
function seg(x1,y1,x2,y2,c,w){ return {type:'line', silent:true, shape:{x1,y1,x2,y2}, style:{stroke:c, lineWidth:w||3}}; }

const graphic = [
  {type:'polyline', silent:true, shape:{points:[[1192,14],[9,6],[9,1127],[1192,1127]]}, style:{stroke:'#2a2a2a', lineWidth:2, fill:null}},
  txt(67,258,'Direction du vent',{rot:Math.PI/2}),
  txt(560,238,'vitesse du vent (m/s)',{rot:-Math.PI/2}),
  txt(50,578,'Vitesse (cm.s⁻¹)',{rot:Math.PI/2, fs:17}),
  txt(44,919,'Direction (°)',{rot:Math.PI/2}),
  txt(578,473,'Vl (cm/s)',{rot:Math.PI/2, fs:16}),
  txt(578,796,'Vt (cm/s)',{rot:Math.PI/2}),
  txt(844,477,'NE',{fs:22}),
  txt(825,562,'SW',{fs:22}),
  txt(1060,765,'offshore',{fs:22}),
  txt(1026,918,'onshore',{fs:22}),
  // bottom legend
  seg(515,1040,573,1040,COL.S4), txt(579,1037,NAMES.S4,{bold:true, fs:17, align:'left'}),
  seg(515,1084,573,1084,COL.ADCP), txt(581,1081,NAMES.ADCP,{bold:true, fs:17, align:'left'}),
  seg(727,1029,790,1029,COL.PLAT), txt(801,1026,NAMES.PLAT,{bold:true, fs:17, align:'left'}),
  seg(729,1068,788,1068,'#1a1a7e'),
  {type:'polygon', silent:true, shape:{points:[[758,1061],[763,1071],[753,1071]]}, style:{fill:'#1a1a7e'}},
  txt(801,1064,'ADV capteur 2',{bold:true, fs:17, align:'left'}),
  txt(801,1088,'(arrière barre swash)',{bold:true, fs:17, align:'left'}),
  seg(727,1117,790,1117,COL.VAS), txt(801,1112,NAMES.VAS,{bold:true, fs:17, align:'left'}),
  seg(973,1050,1026,1050,COL.AMONT), txt(1034,1051,NAMES.AMONT,{bold:true, fs:17, align:'left'}),
  seg(973,1081,1026,1081,COL.AVAL), txt(1039,1081,NAMES.AVAL,{bold:true, fs:17, align:'left'})
];

const tStyle = (fs)=>({fontSize:fs, fontWeight:'bold', color:'#111', fontFamily:FONT, lineHeight:fs+5});
const option = {
  animation:false,
  backgroundColor:'#fff',
  title:[
    {text:'MAREES n° 6 et  7  significatives\nde temps agité de SW et d\'W (coefficient 95 et 102)', left:582, top:15, textAlign:'center', padding:0, textStyle:{fontSize:25, fontWeight:'bold', color:'#111', fontFamily:FONT, lineHeight:31}},
    {text:'Conditions météo', left:297, top:88, textAlign:'center', padding:0, textStyle:tStyle(24)},
    {text:'Vitesse moyenne du courant', left:307, top:457, textAlign:'center', padding:0, textStyle:tStyle(24)},
    {text:'Direction du courant', left:307, top:825, textAlign:'center', padding:0, textStyle:tStyle(24)},
    {text:'Vitesse du courant longitudinal', left:849, top:325, textAlign:'center', padding:0, textStyle:tStyle(24)},
    {text:'Vitesse du courant transversal', left:849, top:687, textAlign:'center', padding:0, textStyle:tStyle(24)}
  ],
  legend:[{data:['direction','vitesse'], left:366, top:293, orient:'vertical', icon:'rect', itemWidth:33, itemHeight:1.5, itemGap:5,
    textStyle:{fontSize:16, color:'#111', fontFamily:FONT, lineHeight:20}, selectedMode:false}],
  grid:[
    {left:118, top:124, width:404, height:247},
    {left:97, top:443, width:425, height:296},
    {left:92, top:807, width:411, height:254},
    {left:644, top:351, width:474, height:246},
    {left:624, top:655, width:499, height:297}
  ],
  xAxis:[
    xAx(0,{line:true, ticks:true, margin:13, off:0.72, lh:22, fs:17}),
    xAx(1,{line:true, ticks:true, margin:8, off:0.63, lh:18.5, fs:16}),
    xAx(2,{line:true, ticks:true, margin:5, off:0.65, lh:18.5, fs:16}),
    xAx(3,{line:true, ticks:false, margin:3, off:0.26, lh:17, fs:16}),
    xAx(4,{line:false, ticks:false, margin:7, off:0.49, lh:23, fs:17})
  ],
  yAxis:[
    Object.assign(yAx(0,{min:0,max:360,interval:45,fs:17,margin:5}), {
      axisLabel:{fontSize:17, color:'#111', margin:5, fontFamily:FONT, formatter:(v)=>compassLabels[Math.round(v/45)]},
      splitLine:{show:true, lineStyle:{color:'#b5b5b5', width:1.5}}}),
    Object.assign(yAx(0,{min:0,max:16,interval:2,fs:17,margin:10}), {position:'right'}),
    yAx(1,{min:0,max:200,interval:20,fs:16,margin:5}),
    yAx(2,{min:0,max:360,interval:45,fs:16,margin:6}),
    yAx(3,{min:-50,max:150,custom:[-50,-30,-10,10,30,50,70,90,110,130,150],fs:16,margin:19}),
    yAx(4,{min:-60,max:80,interval:20,fs:16,margin:11})
  ],
  series,
  graphic
};
const chart = echarts.init(document.getElementById('c'), null, {renderer:'canvas'});
chart.setOption(option);
</script></body></html>
